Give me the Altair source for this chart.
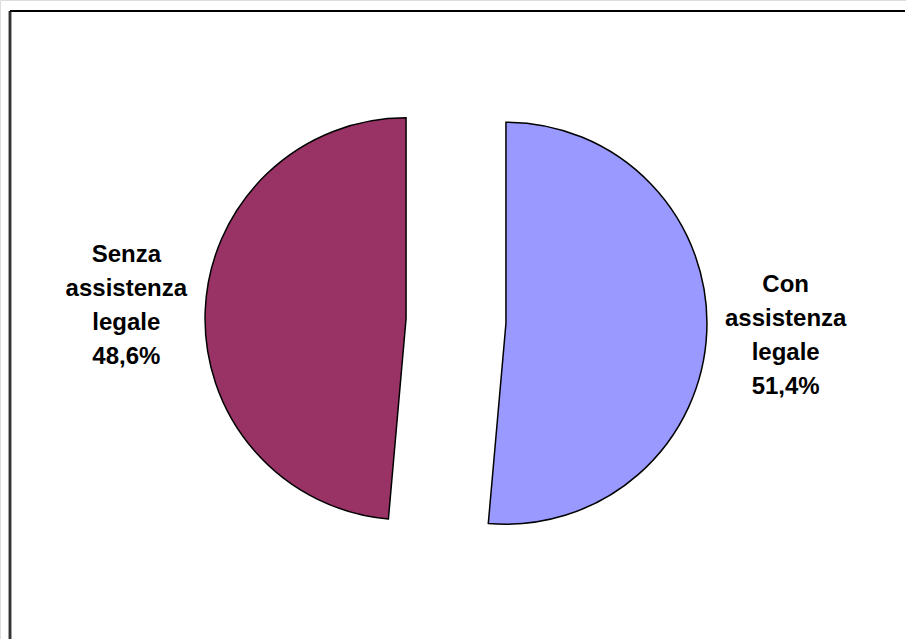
import altair as alt
import pandas as pd

# Data
categories = ["Con\nassistenza\nlegale", "Senza\nassistenza\nlegale"]
values = [51.4, 48.6]
order = [0, 1]
colors = ["#9999FF", "#993366"]

df = pd.DataFrame({"cat": categories, "value": values, "ord": order})

CX, CY = 456, 321      # pie centre (pixels)
EXPLODE = 50           # slice offset
R = 201                # pie radius
LABEL_R = 280          # label distance from slice centre
LINE_H = 34

base = (
    alt.Chart(df)
    .transform_joinaggregate(total="sum(value)")
    .transform_window(cum="sum(value)", sort=[alt.SortField("ord")], frame=[None, 0])
    .transform_calculate(
        a0="(datum.cum - datum.value) / datum.total * 2 * PI",
        a1="datum.cum / datum.total * 2 * PI",
    )
    .transform_calculate(mid="(datum.a0 + datum.a1) / 2")
    .transform_calculate(
        cx=f"{CX} + {EXPLODE} * sin(datum.mid)",
        cy=f"{CY} - {EXPLODE} * cos(datum.mid)",
    )
    .transform_calculate(
        lx=f"datum.cx + {LABEL_R} * sin(datum.mid)",
        ly=f"datum.cy - {LABEL_R} * cos(datum.mid)",
        label="datum.cat + '\\n' + replace(format(datum.value, '.1f'), '.', ',') + '%'",
    )
)

arcs = base.mark_arc(radius=R, stroke="black", strokeWidth=1.5).encode(
    theta=alt.Theta("a0:Q", scale=None),
    theta2="a1:Q",
    x=alt.X("cx:Q", scale=None),
    y=alt.Y("cy:Q", scale=None),
    color=alt.Color("cat:N", scale=alt.Scale(domain=categories, range=colors), legend=None),
)

labels = base.mark_text(
    font="Liberation Sans",
    fontWeight="bold",
    fontSize=24,
    lineHeight=LINE_H,
    lineBreak="\n",
    align="center",
    baseline="middle",
    dy=-1.5 * LINE_H,
    color="black",
).encode(
    x=alt.X("lx:Q", scale=None),
    y=alt.Y("ly:Q", scale=None),
    text="label:N",
)

frame_left = alt.Chart(df).mark_rule(color="#333333", strokeWidth=2.5).encode(
    x=alt.value(10), y=alt.value(11), y2=alt.value(639)
)
frame_top = alt.Chart(df).mark_rule(color="black", strokeWidth=2).encode(
    x=alt.value(10), x2=alt.value(905), y=alt.value(11)
)

chart = (
    alt.layer(arcs, labels, frame_left, frame_top)
    .properties(width=906, height=639, padding=0, autosize=alt.AutoSizeParams(type="none"))
    .configure_view(stroke=None)
    .configure(background="white")
)

chart.save("out.html", embed_options={"renderer": "svg", "actions": False})
